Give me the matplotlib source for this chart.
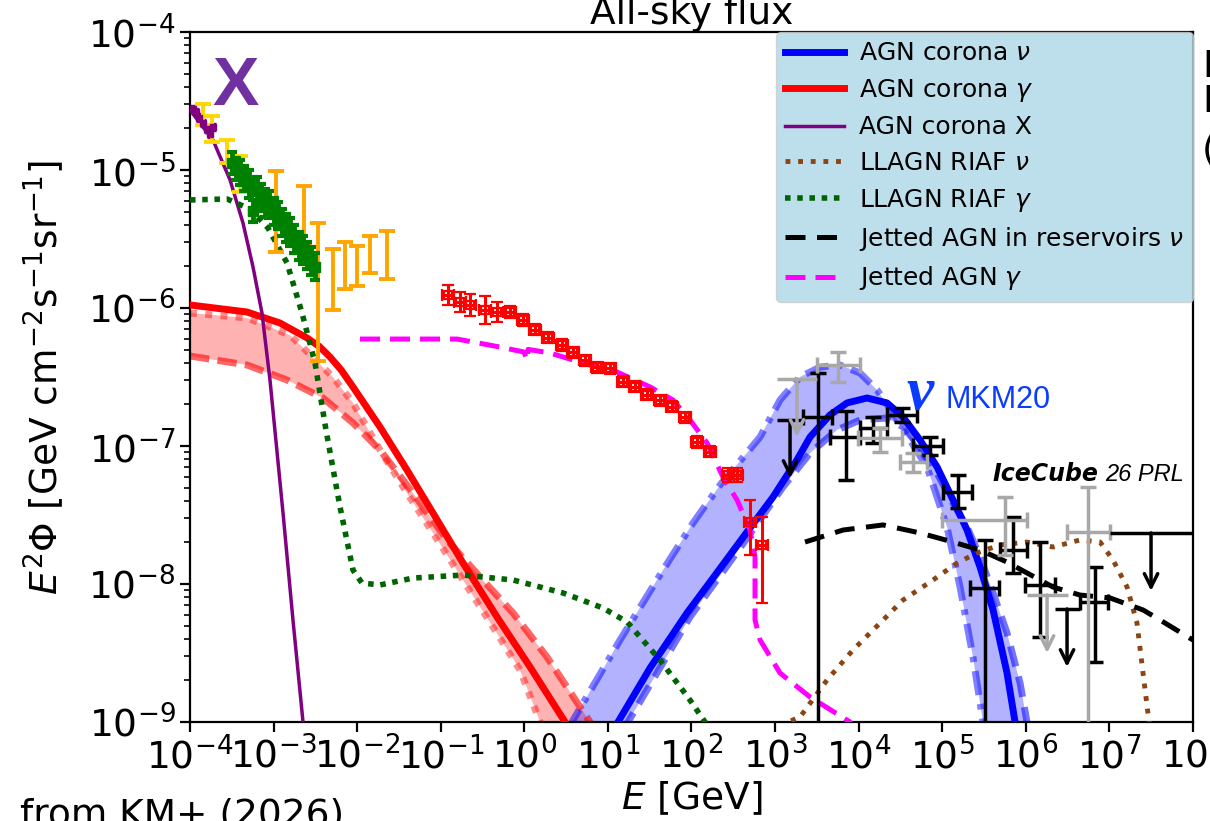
import numpy as np
import matplotlib
matplotlib.use("Agg")
import matplotlib.pyplot as plt
from matplotlib.ticker import FixedLocator, LogFormatterSciNotation, LogLocator, NullLocator

plt.rcParams['font.family'] = ['DejaVu Sans']
plt.rcParams['mathtext.fontset'] = 'dejavusans'

# ---------------- data: log10(E/GeV) and log10(E^2 Phi) ----------------
# AGN corona X (purple)
corx_logE = [-4.0, -3.725, -3.521, -3.366, -3.246, -3.139, -3.043, -2.887, -2.768, -2.648, -2.62]
corx_logF = [-4.565, -4.783, -5.072, -5.384, -5.703, -6.036, -6.522, -7.486, -8.261, -9.0, -9.2]

# X-ray data points (purple)
xdat_logE = [-3.97, -3.93, -3.89, -3.85, -3.80, -3.76, -3.73]
xdat_logF = [-4.56, -4.58, -4.62, -4.66, -4.70, -4.74, -4.69]

# AGN corona gamma: central (solid), dashed and dotted variants
gam_logE = [-4.0, -3.318, -2.923, -2.600, -2.450, -2.325, -2.190, -2.050, -1.727, -1.404, -1.093, -0.734, -0.327, 0.068, 0.487, 0.55]
gam_logF = [-5.978, -6.029, -6.109, -6.217, -6.280, -6.355, -6.450, -6.572, -6.862, -7.174, -7.486, -7.848, -8.239, -8.601, -9.0, -9.06]
gam_dash_logE = [-4.0, -3.318, -2.839, -2.409, -2.050, -1.727, -1.332, -0.925, -0.530, -0.135, 0.271, 0.786, 0.85]
gam_dash_logF = [-6.348, -6.413, -6.522, -6.652, -6.833, -7.029, -7.341, -7.681, -7.949, -8.210, -8.529, -9.0, -9.06]
gam_dot_logE = [-4.0, -3.318, -2.804, -2.289, -2.050, -1.727, -1.404, -1.093, -0.734, -0.375, -0.052, 0.188, 0.25]
gam_dot_logF = [-6.036, -6.072, -6.196, -6.500, -6.688, -7.029, -7.341, -7.630, -7.971, -8.312, -8.623, -9.0, -9.06]

# AGN corona neutrino: central (solid), dash-dot and dashed variants
nu_logE = [1.05, 1.121, 1.504, 1.946, 2.257, 2.664, 2.975, 3.262, 3.418, 3.657, 3.861, 4.100, 4.339,
           4.531, 4.734, 4.938, 5.129, 5.297, 5.452, 5.608, 5.775, 5.871, 5.90]
nu_logF = [-9.06, -9.0, -8.609, -8.210, -7.957, -7.623, -7.370, -7.101, -6.935, -6.775, -6.688, -6.652, -6.688,
           -6.790, -6.957, -7.152, -7.391, -7.609, -7.877, -8.188, -8.645, -9.0, -9.06]
nu_dd_logE = [0.50, 0.570, 1.145, 1.659, 2.018, 2.341, 2.820, 3.059, 3.298, 3.538, 3.777, 4.016, 4.220,
              4.411, 4.615, 4.818, 5.057, 5.213, 5.368, 5.488, 5.50]
nu_dd_logF = [-9.06, -9.0, -8.406, -7.899, -7.558, -7.283, -6.935, -6.667, -6.500, -6.428, -6.413, -6.471, -6.594,
              -6.761, -6.957, -7.152, -7.587, -8.022, -8.529, -9.0, -9.06]
nu_da_logE = [1.17, 1.240, 1.982, 2.580, 3.095, 3.418, 3.741, 4.016, 4.339, 4.531, 4.734, 4.938, 5.129,
              5.297, 5.452, 5.608, 5.775, 5.931, 6.014, 6.03]
nu_da_logF = [-9.06, -9.0, -8.239, -7.739, -7.297, -7.051, -6.884, -6.812, -6.797, -6.862, -7.007, -7.196, -7.413,
              -7.587, -7.804, -8.065, -8.355, -8.717, -9.0, -9.06]

# LLAGN RIAF gamma (green dotted)
riafg_logE = [-4.0, -3.557, -3.282, -3.067, -2.839, -2.660, -2.504, -2.373, -2.205, -2.050, -1.942, -1.727,
              -1.332, -0.734, -0.135, 0.463, 0.941, 1.229, 1.623, 1.982, 2.162, 2.2]
riafg_logF = [-5.217, -5.210, -5.283, -5.420, -5.674, -6.036, -6.399, -6.884, -7.442, -7.899, -7.993, -8.007,
              -7.957, -7.935, -7.971, -8.065, -8.174, -8.275, -8.551, -8.841, -9.0, -9.06]

# LLAGN RIAF neutrino (brown dotted)
riafn_logE = [3.10, 3.155, 3.298, 3.621, 3.932, 4.256, 4.531, 4.890, 5.177, 5.416, 5.691, 6.014, 6.325,
              6.648, 6.888, 7.043, 7.211, 7.330, 7.402, 7.474, 7.48]
riafn_logF = [-9.06, -9.0, -8.964, -8.696, -8.478, -8.283, -8.116, -7.971, -7.848, -7.775, -7.717, -7.696, -7.732,
              -7.681, -7.696, -7.826, -8.022, -8.283, -8.645, -9.0, -9.06]

# Jetted AGN in reservoirs neutrino (black dashed)
jetn_logE = [3.358, 3.813, 4.291, 4.734, 5.129, 5.452, 5.775, 6.014, 6.325, 6.648, 7.007, 7.402, 7.606, 8.0]
jetn_logF = [-7.696, -7.609, -7.572, -7.630, -7.696, -7.754, -7.841, -7.920, -8.022, -8.080, -8.101, -8.188, -8.261, -8.406]

# Jetted AGN gamma (magenta dashed)
jetg_logE = [-1.966, -0.805, -0.291, -0.004, 0.032, 0.045, 0.307, 0.702, 1.109, 1.504, 1.779, 1.982, 2.186,
             2.377, 2.545, 2.700, 2.760, 2.760, 2.820, 3.059, 3.418, 3.897, 3.95]
jetg_logF = [-6.225, -6.225, -6.283, -6.319, -6.377, -6.300, -6.326, -6.399, -6.464, -6.572, -6.667, -6.812, -6.978,
             -7.225, -7.391, -7.609, -7.804, -8.261, -8.406, -8.645, -8.819, -9.0, -9.06]

# gold / orange data (lower, upper ends of bars)
gold_logE = [-3.844, -3.737, -3.557, -3.402]
gold_lo = [-4.674, -4.797, -4.949, -5.159]
gold_hi = [-4.522, -4.609, -4.783, -4.899]
orng_logE = [-2.971, -2.636, -2.469, -2.289, -2.145, -2.002, -1.846, -1.643]
orng_lo = [-5.594, -5.543, -6.384, -6.014, -5.862, -5.841, -5.746, -5.790]
orng_hi = [-5.007, -5.116, -5.384, -5.572, -5.522, -5.551, -5.478, -5.442]

# green data
grn_logE = [-3.50, -3.45, -3.40, -3.35, -3.30, -3.25, -3.20, -3.15, -3.10, -3.05, -3.00,
            -2.95, -2.90, -2.85, -2.80, -2.75, -2.70, -2.65, -2.60, -2.55, -2.50]
grn_logF = [-4.95, -4.99, -5.02, -5.06, -5.10, -5.30, -5.15, -5.20, -5.24, -5.25, -5.30,
            -5.33, -5.38, -5.42, -5.45, -5.50, -5.55, -5.58, -5.62, -5.66, -5.70]
grn_err = [0.08, 0.08, 0.09, 0.09, 0.10, 0.08, 0.10, 0.10, 0.10, 0.10, 0.10,
           0.10, 0.10, 0.10, 0.10, 0.10, 0.10, 0.10, 0.10, 0.10, 0.10]

# Fermi gamma-ray data (red)
fer_logE = [-0.913, -0.770, -0.650, -0.470, -0.327, -0.171, -0.016, 0.128, 0.283, 0.451, 0.582, 0.726, 0.870,
            1.025, 1.181, 1.324, 1.468, 1.623, 1.767, 1.923, 2.066, 2.222, 2.437, 2.545, 2.700, 2.844]
fer_logF = [-5.906, -5.957, -5.978, -6.014, -6.029, -6.029, -6.087, -6.159, -6.217, -6.268, -6.319, -6.377, -6.428,
            -6.435, -6.536, -6.572, -6.630, -6.667, -6.717, -6.790, -6.971, -7.043, -7.210, -7.210, -7.551, -7.717]
fer_eup = [0.07, 0.07, 0.08, 0.10, 0.07, 0.04, 0.04, 0.04, 0.04, 0.04, 0.04, 0.04, 0.04,
           0.04, 0.04, 0.04, 0.04, 0.04, 0.04, 0.04, 0.04, 0.04, 0.05, 0.05, 0.16, 0.20]
fer_edn = [0.07, 0.07, 0.08, 0.10, 0.07, 0.04, 0.04, 0.04, 0.04, 0.04, 0.04, 0.04, 0.04,
           0.04, 0.04, 0.04, 0.04, 0.04, 0.04, 0.04, 0.04, 0.04, 0.05, 0.05, 0.24, 0.42]

# IceCube data, black points
icb_logE = [3.514, 3.849, 4.172, 4.519, 4.854, 5.189, 5.512, 5.847, 6.170, 6.828]
icb_Elo = [3.334, 3.657, 4.016, 4.339, 4.651, 5.009, 5.332, 5.691, 5.990, 6.648]
icb_Ehi = [3.681, 4.016, 4.339, 4.698, 5.009, 5.356, 5.679, 6.014, 6.349, 6.984]
icb_logF = [-6.790, -6.935, -6.870, -6.775, -7.000, -7.333, -8.029, -7.754, -8.007, -8.130]
icb_Flo = [-10.0, -7.246, -6.978, -6.826, -7.065, -7.449, -10.0, -7.920, -8.384, -8.565]
icb_Fhi = [-6.471, -6.746, -6.790, -6.725, -6.935, -7.210, -7.681, -7.514, -7.696, -7.877]
# black upper limits
icbul_logE = [3.179, 6.493, 7.498]
icbul_Elo = [3.023, 6.349, 7.007]
icbul_Ehi = [3.334, 6.648, 8.300]
icbul_logF = [-6.812, -8.181, -7.630]

# grey data points
gry_logE = [3.753, 4.256, 4.651, 5.751, 6.744]
gry_Elo = [3.502, 3.992, 4.495, 4.997, 6.493]
gry_Ehi = [4.016, 4.519, 4.818, 6.014, 7.007]
gry_logF = [-6.413, -6.942, -7.116, -7.536, -7.623]
gry_Flo = [-6.536, -7.043, -7.188, -7.790, -10.0]
gry_Fhi = [-6.319, -6.870, -7.051, -7.370, -7.297]
# grey upper limits
gryul_logE = [3.262, 6.254]
gryul_Elo = [3.023, 6.014]
gryul_Ehi = [3.502, 6.505]
gryul_logF = [-6.514, -8.080]

legend_labels = [r'AGN corona $\nu$', r'AGN corona $\gamma$', 'AGN corona X',
                 r'LLAGN RIAF $\nu$', r'LLAGN RIAF $\gamma$',
                 r'Jetted AGN in reservoirs $\nu$', r'Jetted AGN $\gamma$']


def P(a):
    return 10.0 ** np.asarray(a, dtype=float)


fig = plt.figure(figsize=(12.10, 8.21), dpi=100)
ax = fig.add_axes([190 / 1210, 99 / 821, 1003 / 1210, 690 / 821])
ax.set_xscale('log')
ax.set_yscale('log')

# ---- red (gamma) band ----
ax.fill(np.r_[P(gam_dash_logE), P(gam_dot_logE)[::-1]],
        np.r_[P(gam_dash_logF), P(gam_dot_logF)[::-1]], color='red', alpha=0.3, lw=0, zorder=1)
ax.plot(P(gam_dash_logE), P(gam_dash_logF), color='red', alpha=0.6, lw=5, ls=(0, (2.8, 1.2)), zorder=2)
ax.plot(P(gam_dot_logE), P(gam_dot_logF), color='red', alpha=0.45, lw=5, ls=(0, (1, 1.2)), zorder=2)
l_gam, = ax.plot(P(gam_logE), P(gam_logF), color='red', lw=5, zorder=3)

# ---- blue (neutrino) band ----
ax.fill(np.r_[P(nu_dd_logE), P(nu_da_logE)[::-1]],
        np.r_[P(nu_dd_logF), P(nu_da_logF)[::-1]], color='blue', alpha=0.3, lw=0, zorder=1)
ax.plot(P(nu_dd_logE), P(nu_dd_logF), color='blue', alpha=0.5, lw=5, ls=(0, (3.5, 1.3, 0.8, 1.3)), zorder=2)
ax.plot(P(nu_da_logE), P(nu_da_logF), color='blue', alpha=0.55, lw=5, ls=(0, (3, 1.5)), zorder=2)
l_nu, = ax.plot(P(nu_logE), P(nu_logF), color='blue', lw=5, zorder=3)

# ---- other model lines ----
l_x, = ax.plot(P(corx_logE), P(corx_logF), color='purple', lw=2.5, zorder=3)
l_rn, = ax.plot(P(riafn_logE), P(riafn_logF), color='#8B4513', lw=3.5, ls=(0, (1, 1.6)), zorder=3)
l_rg, = ax.plot(P(riafg_logE), P(riafg_logF), color='#006400', lw=4, ls=(0, (1, 1.2)), zorder=3)
l_jn, = ax.plot(P(jetn_logE), P(jetn_logF), color='black', lw=3.6, ls=(0, (4, 2.3)), zorder=3)
l_jg, = ax.plot(P(jetg_logE), P(jetg_logF), color='magenta', lw=3.6, ls=(0, (4, 2)), zorder=3)

# ---- data ----
# X-ray points
ax.errorbar(P(xdat_logE), P(xdat_logF), yerr=[P(xdat_logF) * (1 - 10 ** -0.03), P(xdat_logF) * (10 ** 0.03 - 1)],
            fmt='s', color='purple', ms=5, elinewidth=2, capsize=2, zorder=4)

# gold and orange bars
for Elog, lo, hi, col in [(gold_logE, gold_lo, gold_hi, 'gold'), (orng_logE, orng_lo, orng_hi, 'orange')]:
    E = P(Elog)
    c = np.sqrt(P(lo) * P(hi))
    ax.errorbar(E, c, yerr=[c - P(lo), P(hi) - c], fmt='none', ecolor=col,
                elinewidth=2.8, capsize=6, capthick=2.8, zorder=4)

# green points
gE = P(grn_logE)
gF = P(grn_logF)
ge = np.asarray(grn_err)
ax.errorbar(gE, gF, yerr=[gF * (1 - 10 ** -ge), gF * (10 ** ge - 1)],
            xerr=[gE * (1 - 10 ** -0.03), gE * (10 ** 0.03 - 1)],
            fmt='s', color='green', ms=7, elinewidth=3.5, capsize=3.5, capthick=3, zorder=4)

# Fermi points
fE = P(fer_logE)
fF = P(fer_logF)
ax.errorbar(fE, fF, yerr=[fF * (1 - 10 ** -np.asarray(fer_edn)), fF * (10 ** np.asarray(fer_eup) - 1)],
            xerr=[fE * (1 - 10 ** -0.07), fE * (10 ** 0.07 - 1)],
            fmt='s', color='red', mfc='none', ms=5.5, mew=1.6, elinewidth=2.2, capsize=4, capthick=2.2, zorder=4)

# neutrino points
for (Elog, Elo, Ehi, Flog, Flo, Fhi, col) in [
        (icb_logE, icb_Elo, icb_Ehi, icb_logF, icb_Flo, icb_Fhi, 'black'),
        (gry_logE, gry_Elo, gry_Ehi, gry_logF, gry_Flo, gry_Fhi, '#a8a8a8')]:
    E, F = P(Elog), P(Flog)
    ax.errorbar(E, F, xerr=[E - P(Elo), P(Ehi) - E], yerr=[F - P(Flo), P(Fhi) - F],
                fmt='none', ecolor=col, elinewidth=2.5, capsize=6, capthick=2.5, zorder=4)

for (Elog, Elo, Ehi, Flog, col) in [
        (icbul_logE, icbul_Elo, icbul_Ehi, icbul_logF, 'black'),
        (gryul_logE, gryul_Elo, gryul_Ehi, gryul_logF, '#a8a8a8')]:
    E, F = P(Elog), P(Flog)
    ax.errorbar(E, F, xerr=[E - P(Elo), P(Ehi) - E], fmt='none', ecolor=col,
                elinewidth=2.5, capsize=0, zorder=4)
    for e, f in zip(E, F):
        ax.annotate('', xy=(e, f * 10 ** -0.42), xytext=(e, f),
                    arrowprops=dict(arrowstyle='->', color=col, lw=2.5, mutation_scale=24,
                                    shrinkA=0, shrinkB=0), zorder=4)

# ---- axes ----
ax.set_xlim(1e-4, 1e8)
ax.set_ylim(1e-9, 1e-4)
ax.xaxis.set_major_locator(FixedLocator([10.0 ** k for k in range(-4, 9)]))
ax.xaxis.set_major_formatter(LogFormatterSciNotation())
ax.xaxis.set_minor_locator(NullLocator())
ax.yaxis.set_major_locator(FixedLocator([10.0 ** k for k in range(-9, -3)]))
ax.yaxis.set_major_formatter(LogFormatterSciNotation())
ax.yaxis.set_minor_locator(LogLocator(base=10, subs=np.arange(2, 10), numticks=30))
ax.tick_params(which='major', length=7, width=1.6, labelsize=27, colors='black')
ax.tick_params(which='minor', length=4, width=1.2)
for s in ax.spines.values():
    s.set_linewidth(1.6)

ax.set_title('All-sky flux', fontsize=27, pad=6)
ax.set_xlabel(r'$E$ [GeV]', fontsize=27, labelpad=2)
ax.set_ylabel(r'$E^2\Phi$ [GeV cm$^{-2}$s$^{-1}$sr$^{-1}$]', fontsize=27, labelpad=16)

# ---- annotations ----
ax.text(10 ** -3.46, 10 ** -4.40, 'X', ha='center', va='center', fontsize=50,
        fontweight='bold', color='#7030a0', family='Liberation Sans', zorder=5)
ax.text(10 ** 4.734, 10 ** -6.62, 'ν', ha='center', va='center',
        fontsize=44, fontweight='bold', fontstyle='italic', family='Liberation Serif', color='#0a3cff', zorder=5)
ax.text(10 ** 5.033, 10 ** -6.725, 'MKM20', ha='left', va='baseline', fontsize=22,
        family='Liberation Sans', color='#0a3cff', zorder=5)
ax.text(10 ** 5.607, 10 ** -7.254, 'IceCube', ha='left', va='baseline', fontsize=17,
        fontweight='bold', fontstyle='italic', color='black', zorder=5)
ax.text(10 ** 6.947, 10 ** -7.254, '26 PRL', ha='left', va='baseline', fontsize=17,
        fontstyle='italic', family='Liberation Sans', color='black', zorder=5)

handles = [l_nu, l_gam, l_x, l_rn, l_rg, l_jn, l_jg]
leg = ax.legend(handles, legend_labels, loc='upper right', bbox_to_anchor=(1, 1), borderaxespad=0,
                fontsize=18, facecolor='lightblue', framealpha=0.8, handlelength=2.35,
                labelspacing=0.46, handletextpad=0.6, borderpad=0.38)
leg.set_zorder(10)

fig.text(20 / 1210, 1 - 797 / 821, 'from KM+ (2026)', ha='left', va='top', fontsize=27)
fig.text(1202 / 1210, 1 - 67 / 821, 'K', ha='left', va='center', fontsize=27)
fig.text(1202 / 1210, 1 - 102 / 821, 'K', ha='left', va='center', fontsize=27)
fig.text(1202 / 1210, 1 - 150 / 821, '(', ha='left', va='center', fontsize=27)

fig.savefig('out.png', dpi=100)
